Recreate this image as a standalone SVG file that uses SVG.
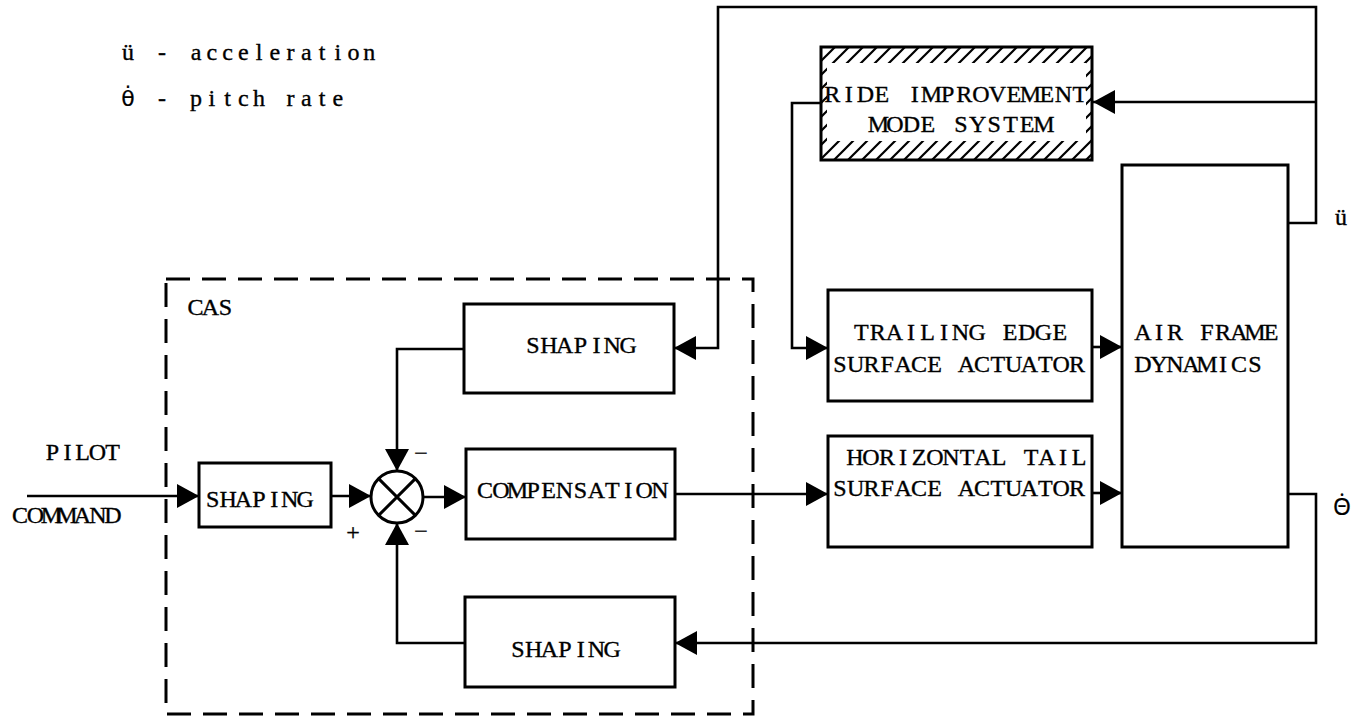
<svg xmlns="http://www.w3.org/2000/svg" width="1364" height="718" viewBox="0 0 1364 718">
<defs>
<marker id="arr" markerUnits="userSpaceOnUse" markerWidth="24" markerHeight="24" refX="22" refY="12" orient="auto">
<path d="M0,0 L22,12 L0,24 Z" fill="#000"/>
</marker>
<pattern id="hatch" patternUnits="userSpaceOnUse" width="14" height="14">
<path d="M0,14 L14,0 M-3,3 L3,-3 M11,17 L17,11" stroke="#000" stroke-width="2.2"/>
</pattern>
</defs>
<style>
text{font-family:"Liberation Serif","DejaVu Serif",serif;font-size:24px;fill:#000;stroke:#000;stroke-width:0.35;text-anchor:middle}
.g{font-family:"Noto Sans","DejaVu Sans",sans-serif;font-size:23px;stroke-width:0.2}
.g2{font-family:"DejaVu Sans","Noto Sans",sans-serif;font-size:22px;stroke-width:0.2}
.box{fill:#fff;stroke:#000;stroke-width:3}
.cn{fill:none;stroke:#000;stroke-width:2.6}
.ar{marker-end:url(#arr)}
</style>
<rect width="1364" height="718" fill="#fff"/>

<g id="legend">
<text y="60" x="128 145 162 179 196 211.75 227.5 243.25 259 274.75 290.5 306.25 322 337.75 353.5 369.25">ü - acceleration</text>
<text y="106"><tspan class="g2" x="128">θ̇</tspan><tspan x="162 179 196 211.75 227.5 243.25 259 274.75 290.5 306.25 322 337.75">- pitch rate</tspan></text>
</g>

<g id="cas">
<rect x="166" y="279" width="587" height="435" fill="none" stroke="#000" stroke-width="3" stroke-dasharray="24 12"/>
<text y="315" x="195.5 210.5 225.5">CAS</text>
</g>

<g id="connectors">
<path class="cn ar" d="M27,496 H199"/>
<path class="cn ar" d="M331,496 H371"/>
<path class="cn ar" d="M423,497 H466"/>
<path class="cn ar" d="M675,494 H828"/>
<path class="cn ar" d="M464,349 H397 V471"/>
<path class="cn ar" d="M465,643 H397 V523"/>
<path class="cn ar" d="M1288,223 H1316 V7 H718 V348 H674"/>
<path class="cn ar" d="M1316,102 H1093"/>
<path class="cn ar" d="M821,103 H792 V348 H828"/>
<path class="cn ar" d="M1092,347 H1122"/>
<path class="cn ar" d="M1092,493 H1122"/>
<path class="cn ar" d="M1288,494 H1316 V643 H675"/>
</g>

<g id="pilot-command">
<text y="460" x="52.5 67.5 82.5 97.5 112.5">PILOT</text>
<text y="523" x="20 35.5 51.5 67 82.5 98 113">COMMAND</text>
</g>

<g id="shaping-input">
<rect class="box" x="199" y="463" width="132" height="64"/>
<text y="507" x="212.7 228.1 243.5 258.9 274.3 289.7 305.1">SHAPING</text>
</g>

<g id="summing-junction">
<circle cx="397" cy="497" r="26" fill="#fff" stroke="#000" stroke-width="3"/>
<path d="M378.6,478.6 L415.4,515.4 M415.4,478.6 L378.6,515.4" stroke="#000" stroke-width="3"/>
<text x="421" y="461">−</text>
<text x="421" y="539">−</text>
<text x="353" y="540">+</text>
</g>

<g id="shaping-top">
<rect class="box" x="464" y="304" width="210" height="89"/>
<text y="353" x="532.9 548.8 564.6 580.5 596.4 612.2 628.1">SHAPING</text>
</g>

<g id="compensation">
<rect class="box" x="466" y="449" width="209" height="90"/>
<text y="498" x="485 500.9 517.3 533.2 548.6 564.5 580.5 596.4 612.3 628.2 644.1 660">COMPENSATION</text>
</g>

<g id="shaping-bottom">
<rect class="box" x="465" y="597" width="210" height="90"/>
<text y="657" x="517.9 533.6 549.3 565 580.7 596.4 612.1">SHAPING</text>
</g>

<g id="ride-improvement">
<rect x="821" y="47" width="271" height="113" fill="#fff"/>
<path d="M821,47 H1092 V160 H821 Z M827,63 V141 H1086 V63 Z" fill="url(#hatch)" fill-rule="evenodd"/>
<rect x="821" y="47" width="271" height="113" fill="none" stroke="#000" stroke-width="3"/>
<text y="102" x="832.3 848.8 865.3 881.8 898.3 914.8 931.3 947.8 964.3 980.8 997.3 1013.8 1030.3 1046.8 1063.3 1079.8">RIDE IMPROVEMENT</text>
<text y="132" x="878.3 894.8 911.4 927.9 944.5 961 977.6 994.1 1010.7 1027.2 1043.8">MODE SYSTEM</text>
</g>

<g id="trailing-edge">
<rect class="box" x="828" y="290" width="264" height="111"/>
<text y="340" x="861.3 877.8 894.4 910.9 927.5 944 960.5 977.1 993.6 1010.2 1026.7 1043.3 1059.8">TRAILING EDGE</text>
<text y="372" x="839.9 855.7 871.5 887.3 903.1 918.9 934.7 950.5 966.3 982.1 997.9 1013.7 1029.5 1045.3 1061.1 1076.9">SURFACE ACTUATOR</text>
</g>

<g id="horizontal-tail">
<rect class="box" x="828" y="436" width="264" height="111"/>
<text y="465" x="855 871 887 903 919 935 951 967 983 999 1015 1031 1047 1063 1079">HORIZONTAL TAIL</text>
<text y="496" x="839.9 855.7 871.5 887.3 903.1 918.9 934.7 950.5 966.3 982.1 997.9 1013.7 1029.5 1045.3 1061.1 1076.9">SURFACE ACTUATOR</text>
</g>

<g id="air-frame">
<rect class="box" x="1122" y="165" width="166" height="382"/>
<text y="340" x="1143 1159 1175 1191 1207 1223 1239 1255 1271">AIR FRAME</text>
<text y="372" x="1143 1159 1175 1191 1207 1223 1239 1255">DYNAMICS</text>
</g>

<g id="outputs">
<text x="1341" y="225">ü</text>
<text y="515"><tspan class="g" x="1342">Θ̇</tspan></text>
</g>
</svg>
